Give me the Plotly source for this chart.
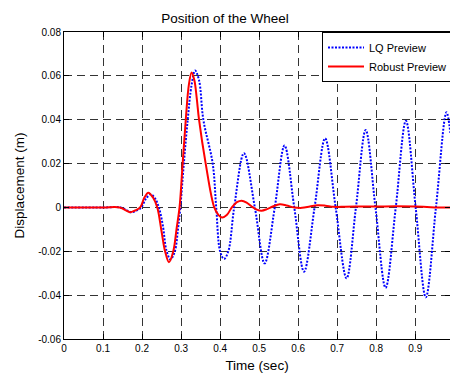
import plotly.graph_objects as go

# Robust Preview (red, solid)
t_robust = [0.0, 0.10, 0.143, 0.157, 0.169, 0.182, 0.195, 0.206, 0.216, 0.228, 0.239, 0.25, 0.259,
            0.269, 0.28, 0.289, 0.296, 0.304, 0.312, 0.32, 0.327, 0.334, 0.34, 0.346, 0.363, 0.385,
            0.396, 0.405, 0.417, 0.43, 0.443, 0.455, 0.468, 0.481, 0.494, 0.506, 0.52, 0.535, 0.553,
            0.57, 0.59, 0.61, 0.63, 0.65, 0.67, 0.69, 0.72, 0.76, 0.8, 0.85, 0.9, 0.93, 0.96, 0.99]
v_robust = [0.0, 0.0, 0.0, -0.0012, -0.0022, -0.0014, 0.0, 0.0045, 0.0067, 0.0045, 0.0, -0.011, -0.02,
            -0.025, -0.02, -0.009, 0.0, 0.02, 0.04, 0.056, 0.0615, 0.058, 0.05, 0.04, 0.02, 0.0,
            -0.0035, -0.0046, -0.0035, 0.0, 0.0024, 0.0031, 0.0022, 0.0004, -0.001, -0.0015, -0.0008, 0.0004, 0.0014,
            0.0009, 0.0, -0.0002, 0.0004, 0.001, 0.0008, 0.0003, 0.0003, 0.0004, 0.0004, 0.0005, 0.0004, 0.0002, 0.0, 0.0]

# LQ Preview (blue, dotted)
t_lq = [0.0, 0.10, 0.145, 0.16, 0.172, 0.185, 0.198, 0.21, 0.222, 0.233, 0.243, 0.253, 0.263,
        0.273, 0.284, 0.292, 0.298, 0.307, 0.317, 0.327, 0.336, 0.346, 0.357, 0.381, 0.39,
        0.40, 0.41, 0.421, 0.436, 0.461, 0.489, 0.514, 0.54, 0.565, 0.59, 0.615, 0.642, 0.669,
        0.696, 0.724, 0.748, 0.773, 0.798, 0.824, 0.85, 0.876, 0.901, 0.927, 0.953, 0.98, 0.99]
v_lq = [0.0, 0.0, 0.0, -0.0012, -0.0022, -0.0015, 0.0, 0.004, 0.006, 0.0042, 0.0, -0.008, -0.02,
        -0.0237, -0.02, -0.01, 0.0, 0.02, 0.04, 0.056, 0.0624, 0.058, 0.04, 0.02, 0.0,
        -0.02, -0.0235, -0.02, 0.0, 0.0247, 0.0, -0.0255, 0.0, 0.0282, 0.0, -0.0293, 0.0, 0.0315,
        0.0, -0.0323, 0.0, 0.0353, 0.0, -0.0366, 0.0, 0.0395, 0.0, -0.041, 0.0, 0.0434, 0.034]

x_ticks = [0, 0.1, 0.2, 0.3, 0.4, 0.5, 0.6, 0.7, 0.8, 0.9]
x_labels = ["0", "0.1", "0.2", "0.3", "0.4", "0.5", "0.6", "0.7", "0.8", "0.9"]
y_ticks = [-0.06, -0.04, -0.02, 0, 0.02, 0.04, 0.06, 0.08]
y_labels = ["-0.06", "-0.04", "-0.02", "0", "0.02", "0.04", "0.06", "0.08"]

font_family = "Liberation Sans, Arial, sans-serif"

fig = go.Figure()
fig.add_trace(go.Scatter(x=t_lq, y=v_lq, mode="lines", name="LQ Preview",
                         line=dict(color="#0000FF", width=2, dash="2px,1.5px", shape="spline", smoothing=1.0)))
fig.add_trace(go.Scatter(x=t_robust, y=v_robust, mode="lines", name="Robust Preview",
                         line=dict(color="#FF0000", width=2, shape="spline", smoothing=1.0)))

axis_common = dict(showline=True, linecolor="black", linewidth=1, mirror="ticks",
                   ticks="inside", ticklen=5, tickcolor="black",
                   showgrid=True, gridcolor="#333333", gridwidth=1, griddash="8px,5px",
                   zeroline=False, tickfont=dict(size=10, color="black", family=font_family))

fig.update_layout(
    width=450, height=378,
    margin=dict(l=64, r=0, t=32, b=39, autoexpand=False),
    paper_bgcolor="white", plot_bgcolor="white",
    font=dict(family=font_family, color="black"),
    title=dict(text="Position of the Wheel", x=0.5, xanchor="center", y=1 - 18 / 378, yanchor="middle",
               font=dict(size=13.5, color="black", family=font_family)),
    xaxis=dict(range=[0, 0.989], tickvals=x_ticks, ticktext=x_labels,
               title=dict(text="Time (sec)", font=dict(size=13.5, color="black"), standoff=7), **axis_common),
    yaxis=dict(range=[-0.06, 0.08], tickvals=y_ticks, ticktext=y_labels,
               title=dict(text="Displacement (m)", font=dict(size=13.5, color="black"), standoff=10), **axis_common),
    legend=dict(x=(322 - 64) / 386, y=1, xanchor="left", yanchor="top", bgcolor="white",
                bordercolor="black", borderwidth=1, font=dict(size=11, color="black", family=font_family),
                tracegroupgap=0, itemwidth=36),
    showlegend=True,
)

fig.write_html("out.html", config={"displayModeBar": False},
               post_script="document.body.style.margin='0px';document.body.style.overflow='hidden';")
